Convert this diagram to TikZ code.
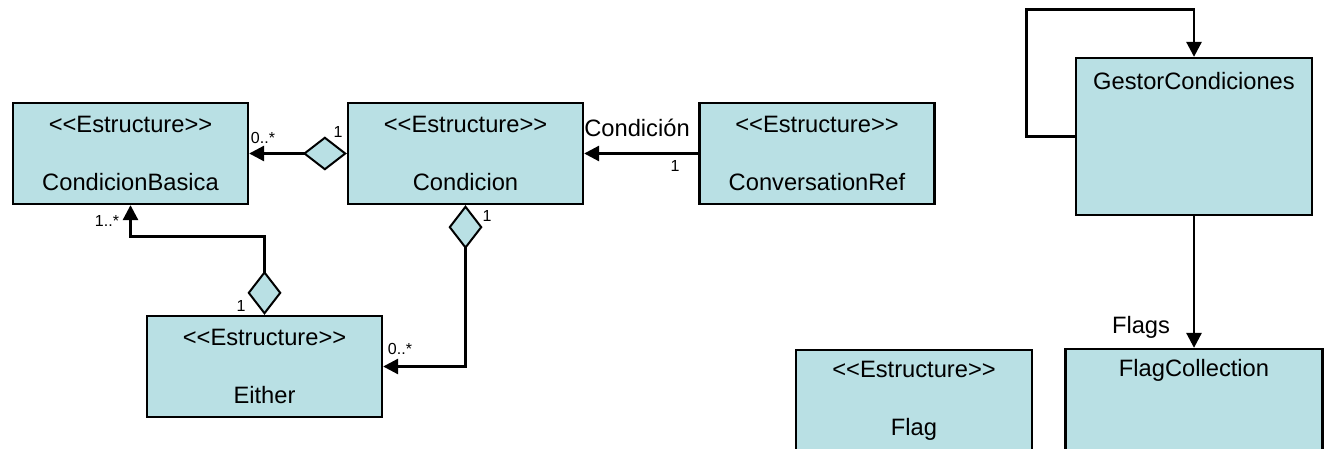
\documentclass[tikz,border=0pt]{standalone}
\usepackage{fontspec}
\setmainfont{Liberation Sans}
\usetikzlibrary{arrows.meta}
\definecolor{clsfill}{RGB}{185,224,228}

\begin{document}
\begin{tikzpicture}[x=1pt,y=-1pt]
    \tikzstyle{cls}=[rectangle,draw,line width=2.3pt,fill=clsfill,minimum width=235pt,minimum height=101pt,align=center,inner sep=0pt,font=\fontsize{23.7}{58}\selectfont]
    \tikzstyle{txt}=[inner sep=0pt,font=\fontsize{23.7}{28}\selectfont]
    \tikzstyle{mult}=[inner sep=0pt,font=\fontsize{16}{18}\selectfont]
    \tikzstyle{assoc}=[line width=2.8pt,-{Triangle[length=15pt,width=15pt]}]
    \tikzstyle{aggr}=[line width=2.8pt,{Diamond[length=44pt,width=34pt,line width=2pt,fill=clsfill]}-{Triangle[length=15pt,width=15pt]}]
    \clip (0,0) rectangle (1324,449);
    \node[cls] (basica) at (130.5,153.5) {<{}<Estructure>{}>\\CondicionBasica};
    \node[cls] (cond) at (465.5,153.5) {<{}<Estructure>{}>\\Condicion};
    \node[cls] (convref) at (817,153.5) {<{}<Estructure>{}>\\ConversationRef};
    \node[cls] (either) at (264.5,366.5) {<{}<Estructure>{}>\\Either};
    \node[cls,minimum width=236pt,minimum height=157pt] (gestor) at (1194,136.5) {};
    \node[txt] (gestorname) at ([yshift=-24pt]gestor.north) {GestorCondiciones};
    \node[cls,minimum width=257pt] (flagcoll) at (1194,399.5) {};
    \node[txt] (flagcollname) at ([yshift=-23pt]flagcoll.north) {FlagCollection};
    \node[cls,minimum width=236pt] (flag) at (914,400.5) {<{}<Estructure>{}>\\Flag};
    \draw[aggr] (cond.west) -- (basica.east);
    \draw[assoc] (convref.west) -- (cond.east);
    \draw[aggr] (cond.south) |- (either.east);
    \draw[aggr] (either.north) -- ++(0,-78) -| (basica.south);
    \draw[assoc] (gestor.west) -- ++(-48,0) |- ([yshift=47pt]gestor.north) -- (gestor.north);
    \draw[assoc] (gestor.south) -- (flagcoll.north);
    \node[mult] (basicamult) at (263,138) {0..*};
    \node[mult] (condmult) at (338,132) {1};
    \node[txt] (condrole) at (637,128) {Condición};
    \node[mult] (convmult) at (675,166) {1};
    \node[mult] (condmult2) at (487,216) {1};
    \node[mult] (eithermult) at (400,349) {0..*};
    \node[mult] (basicamult2) at (107,221) {1..*};
    \node[mult] (eithermult2) at (241,306) {1};
    \node[txt] (flagsrole) at (1141,327) {Flags};
\end{tikzpicture}
\end{document}
